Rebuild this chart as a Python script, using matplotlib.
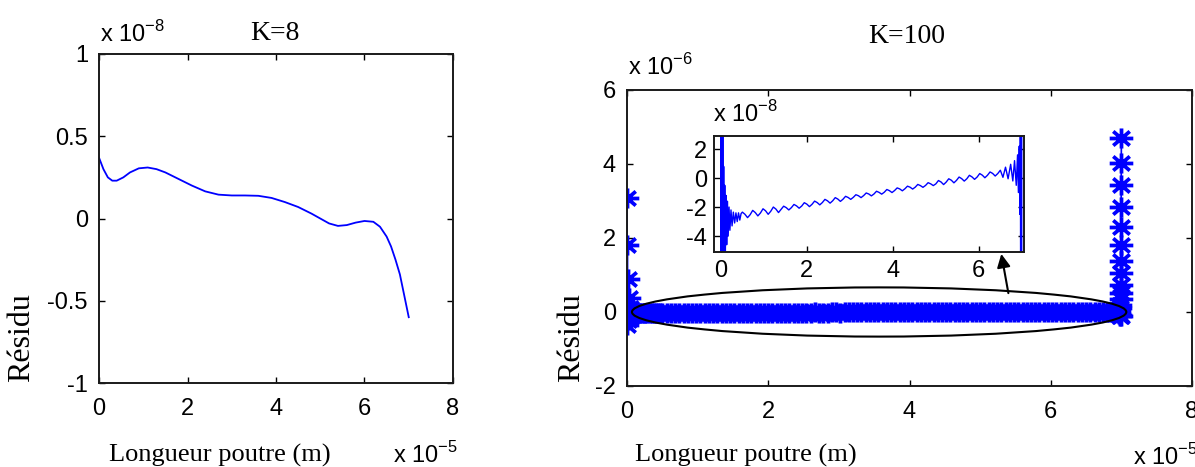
import numpy as np
import matplotlib
matplotlib.use("Agg")
import matplotlib.pyplot as plt
from matplotlib.path import Path
from matplotlib.patches import Ellipse

# K=8 : longueur (x 1e-5 m), residu (x 1e-8)
x_k8 = [0, 0.1, 0.2, 0.3, 0.4, 0.55, 0.7, 0.9, 1.1, 1.3, 1.5, 1.8, 2.1, 2.4,
        2.7, 3.0, 3.3, 3.6, 3.9, 4.2, 4.5, 4.8, 5.0, 5.2, 5.4, 5.6, 5.8, 6.0,
        6.2, 6.35, 6.5, 6.6, 6.7, 6.8, 6.9, 7.0]
r_k8 = [0.37, 0.30, 0.25, 0.23, 0.23, 0.25, 0.28, 0.305, 0.31, 0.30, 0.28,
        0.24, 0.20, 0.165, 0.145, 0.14, 0.14, 0.138, 0.125, 0.10, 0.07, 0.03,
        0.0, -0.03, -0.045, -0.04, -0.025, -0.015, -0.02, -0.05, -0.11, -0.17,
        -0.25, -0.34, -0.47, -0.60]

# K=100 : longueur (x 1e-5 m), residu (x 1e-8)
# bord gauche
x_k100_a = [0.0, 0.002, 0.005, 0.009, 0.014, 0.02, 0.027, 0.035, 0.044, 0.054,
            0.065, 0.077, 0.09, 0.104, 0.119, 0.135, 0.152, 0.17, 0.19, 0.21,
            0.235, 0.26, 0.29, 0.32, 0.35, 0.38, 0.41, 0.44, 0.47]
r_k100_a = [307, -35, 180, -22, 90, -15, 38, -10, 12, -8,
            0.8, -6.5, -0.5, -5.2, -1.2, -4.6, -1.6, -4.0, -2.0, -3.6,
            -2.2, -3.3, -2.35, -3.1, -2.4, -3.0, -2.4, -2.9, -2.45]
# partie centrale
x_k100_b = [0.50, 0.56, 0.62, 0.68, 0.74, 0.80, 0.86, 0.92, 0.98, 1.04,
            1.10, 1.16, 1.22, 1.28, 1.34, 1.40, 1.46, 1.52, 1.58, 1.64,
            1.70, 1.76, 1.82, 1.88, 1.94, 2.00, 2.06, 2.12, 2.18, 2.24,
            2.30, 2.36, 2.42, 2.48, 2.54, 2.60, 2.66, 2.72, 2.78, 2.84,
            2.90, 2.96, 3.02, 3.08, 3.14, 3.20, 3.26, 3.32, 3.38, 3.44,
            3.50, 3.56, 3.62, 3.68, 3.74, 3.80, 3.86, 3.92, 3.98, 4.04,
            4.10, 4.16, 4.22, 4.28, 4.34, 4.40, 4.46, 4.52, 4.58, 4.64,
            4.70, 4.76, 4.82, 4.88, 4.94, 5.00, 5.06, 5.12, 5.18, 5.24,
            5.30, 5.36, 5.42, 5.48, 5.54, 5.60, 5.66, 5.72, 5.78, 5.84,
            5.90, 5.96, 6.02, 6.08, 6.14, 6.20, 6.26, 6.32, 6.38, 6.44,
            6.50]
r_k100_b = [-2.35, -2.50, -2.73, -2.53, -2.23, -2.38, -2.61, -2.41, -2.12, -2.26,
            -2.50, -2.29, -2.00, -2.14, -2.38, -2.16, -1.94, -2.04, -2.20, -2.04,
            -1.82, -1.92, -2.08, -1.93, -1.70, -1.80, -1.97, -1.81, -1.59, -1.69,
            -1.85, -1.69, -1.47, -1.57, -1.73, -1.57, -1.35, -1.45, -1.61, -1.46,
            -1.26, -1.34, -1.47, -1.33, -1.15, -1.22, -1.35, -1.21, -1.03, -1.10,
            -1.23, -1.10, -0.91, -0.99, -1.11, -0.98, -0.79, -0.87, -1.00, -0.86,
            -0.68, -0.75, -0.88, -0.74, -0.56, -0.63, -0.76, -0.63, -0.44, -0.52,
            -0.64, -0.51, -0.32, -0.40, -0.52, -0.40, -0.17, -0.27, -0.45, -0.28,
            -0.05, -0.15, -0.33, -0.16, 0.07, -0.04, -0.21, -0.05, 0.19, 0.08,
            -0.09, 0.07, 0.31, 0.20, 0.02, 0.19, 0.42, 0.32, 0.14, 0.31,
            0.54]
# bord droit
x_k100_c = [6.56, 6.62, 6.68, 6.74, 6.79, 6.83, 6.87, 6.90, 6.92, 6.94, 6.955,
            6.965, 6.972, 6.978, 6.982, 6.985, 6.987, 6.989, 6.990, 6.991,
            6.992, 6.993, 6.994, 6.995, 6.996, 6.997, 6.998, 6.999, 7.0]
r_k100_c = [0.05, 0.75, -0.05, 0.95, -0.2, 1.2, -0.5, 1.6, -1.0, 2.2, -2.5,
            3.5, -6, 12, -9, 20, -12, 35, 51, 73, -10, 105, 138, 181, 230,
            284, 343, 403, 470]

x_k100 = x_k100_a + x_k100_b + x_k100_c
r_k100 = r_k100_a + r_k100_b + r_k100_c

W, H = 1195, 467
plt.rcParams['axes.unicode_minus'] = False
plt.rcParams['font.family'] = ['Liberation Sans', 'DejaVu Sans']

# asterisque facon matlab
star = Path([(-1, 0), (1, 0), (0, -0.85), (0, 0.85),
             (-0.7, -0.6), (0.7, 0.6), (-0.7, 0.6), (0.7, -0.6)],
            [Path.MOVETO, Path.LINETO] * 4)


def box(x0, y0, x1, y1):
    return [x0 / W, 1 - y1 / H, (x1 - x0) / W, (y1 - y0) / H]


def ftext(fig, x, y, s, **kw):
    fig.text(x / W, 1 - y / H, s, **kw)


def style(ax, fs=17, xpad=11, ypad=8):
    ax.tick_params(direction='in', top=True, right=True, length=4,
                   width=1, labelsize=fs, colors='k')
    ax.tick_params(axis='x', pad=xpad)
    ax.tick_params(axis='y', pad=ypad)
    for s in ax.spines.values():
        s.set_linewidth(1.4)
        s.set_color('#1a1a1a')


def main():
    fig = plt.figure(figsize=(W / 100, H / 100), dpi=100)

    # ---- K=8
    ax1 = fig.add_axes(box(99, 54, 453, 383))
    ax1.plot(x_k8, r_k8, color='b', lw=1.3)
    ax1.set_xlim(0, 8)
    ax1.set_ylim(-1, 1)
    ax1.set_xticks([0, 2, 4, 6, 8])
    ax1.set_yticks([-1, -0.5, 0, 0.5, 1])
    ax1.set_yticklabels(['-1', '-0.5', '0', '0.5', '1'])
    style(ax1)

    # ---- K=100
    ax2 = fig.add_axes(box(627, 90, 1192, 386))
    y_m = [v / 100.0 for v in r_k100]
    ax2.plot(x_k100, y_m, color='b', lw=1.2, marker=star, ms=17,
             mfc='none', mec='b', mew=2.7)
    ax2.set_xlim(0, 8)
    ax2.set_ylim(-2, 6)
    ax2.set_xticks([0, 2, 4, 6, 8])
    ax2.set_yticks([-2, 0, 2, 4, 6])
    style(ax2)
    ax2.add_patch(Ellipse((3.57, 0.0), 7.0, 1.33, fill=False, ec='k',
                          lw=1.5, zorder=5))
    ax2.annotate('', xy=(5.30, 1.57), xytext=(5.40, 0.51),
                 arrowprops=dict(arrowstyle='-|>', color='k', lw=1.5,
                                 mutation_scale=20, shrinkA=0, shrinkB=0),
                 zorder=6)

    # ---- zoom
    ax3 = fig.add_axes(box(714, 136, 1024, 252))
    ax3.plot(x_k100, r_k100, color='b', lw=1)
    ax3.set_xlim(-0.16, 7.05)
    ax3.set_ylim(-5.1, 2.9)
    ax3.set_xticks([0, 2, 4, 6])
    ax3.set_yticks([-4, -2, 0, 2])
    style(ax3, xpad=6, ypad=5)

    # ---- textes
    serif = ['Liberation Serif', 'DejaVu Serif']
    ftext(fig, 275, 40, 'K=8', family=serif, fontsize=20, ha='center',
          va='baseline')
    ftext(fig, 907, 43, 'K=100', family=serif, fontsize=20, ha='center',
          va='baseline')
    ftext(fig, 220, 462, 'Longueur poutre (m)', family=serif, fontsize=19,
          ha='center', va='baseline')
    ftext(fig, 746, 462, 'Longueur poutre (m)', family=serif, fontsize=19,
          ha='center', va='baseline')
    ftext(fig, 22, 338, 'Résidu', family=serif, fontsize=23, rotation=90,
          ha='center', va='center')
    ftext(fig, 572, 338, 'Résidu', family=serif, fontsize=23, rotation=90,
          ha='center', va='center')

    mult = dict(fontsize=17, ha='left', va='baseline')
    ftext(fig, 100, 42, r'x 10$^{\mathregular{-8}}$', **mult)
    ftext(fig, 628, 75, r'x 10$^{\mathregular{-6}}$', **mult)
    ftext(fig, 713, 122, r'x 10$^{\mathregular{-8}}$', **mult)
    ftext(fig, 393, 463, r'x 10$^{\mathregular{-5}}$', **mult)
    ftext(fig, 1133, 465, r'x 10$^{\mathregular{-5}}$', **mult)

    fig.savefig('out.png', dpi=100)


if __name__ == '__main__':
    main()
